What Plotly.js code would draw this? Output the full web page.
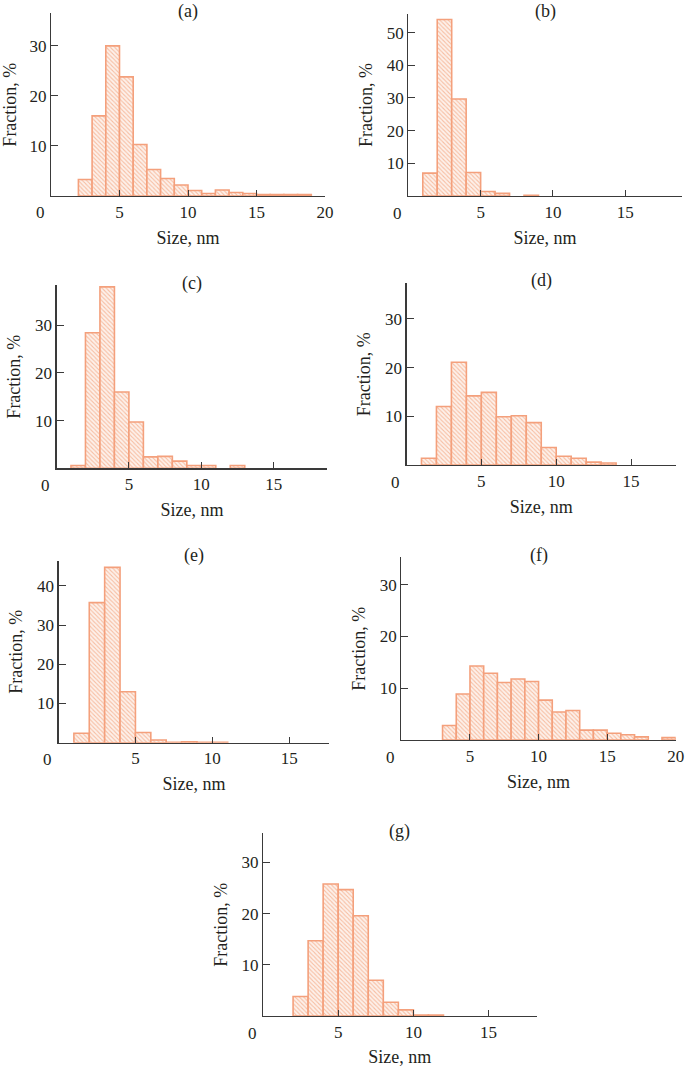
<!DOCTYPE html>
<html>
<head>
<meta charset="utf-8">
<script src="https://cdn.plot.ly/plotly-3.0.1.min.js"></script>
<style>html,body{margin:0;padding:0;background:#fff;}#chart{width:685px;height:1067px;}</style>
</head>
<body>
<div id="chart"></div>
<script>
// ---- data: bin centres (nm) and fraction (%) per panel ----
const panelLabels = ['(a)', '(b)', '(c)', '(d)', '(e)', '(f)', '(g)'];

const sizesA = [2.5, 3.5, 4.5, 5.5, 6.5, 7.5, 8.5, 9.5, 10.5, 11.5, 12.5, 13.5, 14.5, 15.5, 16.5, 17.5, 18.5];
const fracA  = [3.3, 16.0, 30.0, 23.8, 10.3, 5.3, 3.5, 2.2, 1.1, 0.5, 1.2, 0.7, 0.5, 0.3, 0.3, 0.3, 0.3];

const sizesB = [1.5, 2.5, 3.5, 4.5, 5.5, 6.5, 8.5];
const fracB  = [7.0, 54.0, 29.7, 7.2, 1.4, 0.8, 0.25];

const sizesC = [1.5, 2.5, 3.5, 4.5, 5.5, 6.5, 7.5, 8.5, 9.5, 10.5, 12.5];
const fracC  = [0.6, 28.4, 38.0, 16.0, 9.7, 2.4, 2.5, 1.5, 0.6, 0.6, 0.6];

const sizesD = [1.5, 2.5, 3.5, 4.5, 5.5, 6.5, 7.5, 8.5, 9.5, 10.5, 11.5, 12.5, 13.5];
const fracD  = [1.4, 12.0, 21.1, 14.2, 14.9, 9.9, 10.1, 8.7, 3.6, 1.8, 1.4, 0.6, 0.4];

const sizesE = [1.5, 2.5, 3.5, 4.5, 5.5, 6.5, 7.5, 8.5, 9.5, 10.5];
const fracE  = [2.4, 35.7, 44.7, 13.0, 2.6, 0.7, 0.1, 0.25, 0.1, 0.1];

const sizesF = [3.5, 4.5, 5.5, 6.5, 7.5, 8.5, 9.5, 10.5, 11.5, 12.5, 13.5, 14.5, 15.5, 16.5, 17.5, 19.5];
const fracF  = [2.8, 8.9, 14.3, 12.9, 11.1, 11.8, 11.3, 7.7, 5.4, 5.7, 1.9, 1.9, 1.3, 1.0, 0.6, 0.45];

const sizesG = [2.5, 3.5, 4.5, 5.5, 6.5, 7.5, 8.5, 9.5, 10.5, 11.5];
const fracG  = [3.8, 14.7, 25.8, 24.7, 19.6, 7.0, 2.7, 1.2, 0.2, 0.2];

const xTicksA = [5, 10, 15, 20];
const xTicksB = [5, 10, 15];
const yTicksA = [10, 20, 30];
const yTicksB = [10, 20, 30, 40, 50];
const yTicksE = [10, 20, 30, 40];

// ---- layout geometry (pixels) ----
const W = 685, H = 1067;
const panels = [
  {sx: sizesA, fy: fracA, box: [51, 325, 13.3, 196], xr: [0, 20], yr: [0, 36.5], xt: xTicksA, yt: yTicksA, ty: 12},
  {sx: sizesB, fy: fracB, box: [408.3, 681.7, 14, 196], xr: [0, 18.9], yr: [0, 55.7], xt: xTicksB, yt: yTicksB, ty: 12},
  {sx: sizesC, fy: fracC, box: [56.5, 327.3, 285, 468.3], xr: [0, 18.7], yr: [0, 38.4], xt: xTicksB, yt: yTicksA, ty: 283},
  {sx: sizesD, fy: fracD, box: [406.5, 676, 283.3, 465], xr: [0, 18], yr: [0, 37.3], xt: xTicksB, yt: yTicksA, ty: 280},
  {sx: sizesE, fy: fracE, box: [58.5, 329.3, 560.7, 742.7], xr: [0, 17.6], yr: [0, 46.4], xt: xTicksB, yt: yTicksE, ty: 555},
  {sx: sizesF, fy: fracF, box: [401.4, 675.7, 557.3, 740], xr: [0, 20], yr: [0, 35.3], xt: xTicksA, yt: yTicksA, ty: 555},
  {sx: sizesG, fy: fracG, box: [263, 536.7, 833.3, 1016], xr: [0, 18.2], yr: [0, 35.7], xt: xTicksB, yt: yTicksA, ty: 831}
];

const fontFam = '"Liberation Serif", "DejaVu Serif", serif';
const textCol = '#231f20';
const axCol = '#3a3a3a';
const tickSize = 17, titleSize = 18;

const traces = [];
const layout = {
  width: W, height: H,
  margin: {l: 0, r: 0, t: 0, b: 0},
  paper_bgcolor: '#ffffff', plot_bgcolor: 'rgba(0,0,0,0)',
  showlegend: false,
  font: {family: fontFam, size: tickSize, color: textCol},
  annotations: []
};

panels.forEach((p, i) => {
  const n = i === 0 ? '' : String(i + 1);
  const [x0, x1, y0, y1] = p.box;
  traces.push({
    type: 'bar',
    x: p.sx, y: p.fy,
    width: 1,
    xaxis: 'x' + n, yaxis: 'y' + n,
    marker: {
      color: '#fdeee6',
      line: {color: '#f4a07c', width: 1.6},
      pattern: {shape: '\\', fgcolor: '#f7bea2', bgcolor: '#fdf1eb', size: 3, solidity: 0.35, fillmode: 'replace'}
    },
    hoverinfo: 'x+y'
  });
  layout['xaxis' + n] = {
    domain: [x0 / W, x1 / W],
    anchor: 'y' + n,
    range: p.xr,
    tickvals: p.xt,
    ticks: 'inside', ticklen: 6, tickwidth: 1, tickcolor: axCol,
    showline: true, linecolor: axCol, linewidth: 1.2,
    showgrid: false, zeroline: false,
    tickfont: {family: fontFam, size: tickSize, color: textCol},
    title: {text: 'Size, nm', font: {family: fontFam, size: titleSize, color: textCol}, standoff: 10},
    fixedrange: true
  };
  layout['yaxis' + n] = {
    domain: [1 - y1 / H, 1 - y0 / H],
    anchor: 'x' + n,
    range: p.yr,
    tickvals: p.yt,
    ticks: 'inside', ticklen: 7, tickwidth: 1, tickcolor: axCol,
    showline: true, linecolor: axCol, linewidth: 1.2,
    showgrid: false, zeroline: false,
    tickfont: {family: fontFam, size: tickSize, color: textCol},
    title: {text: 'Fraction, %', font: {family: fontFam, size: titleSize, color: textCol}, standoff: 9},
    fixedrange: true
  };
  // panel label
  layout.annotations.push({
    text: panelLabels[i], xref: 'paper', yref: 'paper',
    x: ((x0 + x1) / 2) / W, y: 1 - p.ty / H,
    xanchor: 'center', yanchor: 'middle', showarrow: false,
    font: {family: fontFam, size: titleSize, color: textCol}
  });
  // origin "0" label at the corner
  layout.annotations.push({
    text: '0', xref: 'x' + n, yref: 'y' + n,
    x: 0, y: 0, xshift: -11, yshift: -17,
    xanchor: 'center', yanchor: 'middle', showarrow: false,
    font: {family: fontFam, size: tickSize, color: textCol}
  });
});

Plotly.newPlot('chart', traces, layout, {displayModeBar: false, staticPlot: true});
</script>
</body>
</html>
